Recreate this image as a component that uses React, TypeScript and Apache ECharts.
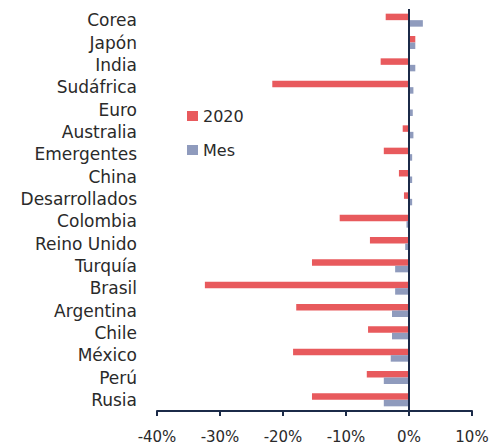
import React, { useEffect, useRef } from "react";
import * as echarts from "echarts";

// Countries / aggregates, top to bottom
const categories = [
  "Corea", "Japón", "India", "Sudáfrica", "Euro", "Australia", "Emergentes",
  "China", "Desarrollados", "Colombia", "Reino Unido", "Turquía", "Brasil",
  "Argentina", "Chile", "México", "Perú", "Rusia",
];

// Year-to-date change, %
const values2020 = [
  -3.7, 1.0, -4.5, -21.7, 0, -1.0, -4.0, -1.6, -0.8, -11.0, -6.2, -15.4,
  -32.4, -17.9, -6.5, -18.4, -6.7, -15.4,
];

// Change over the last month, %
const valuesMes = [
  2.2, 1.0, 1.0, 0.7, 0.6, 0.7, 0.5, 0.5, 0.5, -0.4, -0.6, -2.2, -2.2, -2.7,
  -2.7, -2.9, -4.0, -4.0,
];

const xMin = -40;
const xMax = 10;
const xStep = 10;

const RED = "#e85a5d";
const BLUE = "#8f9bbd";
const NAVY = "#1b2a48";
const TEXT = "#2a2a2a";
const FONT = "DejaVu Sans";

export default function App() {
  const ref = useRef<HTMLDivElement>(null);

  useEffect(() => {
    if (!ref.current) return;
    const chart = echarts.init(ref.current, null, { renderer: "svg" });
    chart.setOption({
      animation: false,
      backgroundColor: "#ffffff",
      textStyle: { fontFamily: FONT },
      grid: { left: 157, right: 30, top: 9, bottom: 32.5, containLabel: false },
      legend: {
        orient: "vertical",
        left: 182,
        top: 103,
        itemWidth: 11,
        itemHeight: 10,
        itemGap: 18,
        icon: "rect",
        textStyle: { fontFamily: FONT, fontSize: 16, color: TEXT },
        data: ["2020", "Mes"],
      },
      xAxis: {
        type: "value",
        min: xMin,
        max: xMax,
        interval: xStep,
        splitLine: { show: false },
        axisLine: { show: true, lineStyle: { color: NAVY, width: 2 } },
        axisTick: { show: true, length: 5, lineStyle: { color: NAVY, width: 2 } },
        axisLabel: {
          margin: 18,
          fontFamily: FONT,
          fontSize: 15,
          color: TEXT,
          formatter: (v: number) => `${v}%`,
        },
      },
      yAxis: {
        type: "category",
        inverse: true,
        data: categories,
        axisLine: { show: false, onZero: false },
        axisTick: { show: false },
        axisLabel: { margin: 20, fontFamily: FONT, fontSize: 17, color: TEXT },
      },
      series: [
        {
          name: "2020",
          type: "bar",
          data: values2020,
          barWidth: 6.5,
          barGap: "0%",
          itemStyle: { color: RED },
          markLine: {
            silent: true,
            symbol: "none",
            label: { show: false },
            lineStyle: { color: NAVY, width: 2, type: "solid" },
            data: [{ xAxis: 0 }],
          },
        },
        {
          name: "Mes",
          type: "bar",
          data: valuesMes,
          barWidth: 6.5,
          barGap: "0%",
          itemStyle: { color: BLUE },
        },
      ],
    });
    return () => chart.dispose();
  }, []);

  return (
    <div
      ref={ref}
      style={{ position: "fixed", left: 0, top: 0, width: 502, height: 444 }}
    />
  );
}
